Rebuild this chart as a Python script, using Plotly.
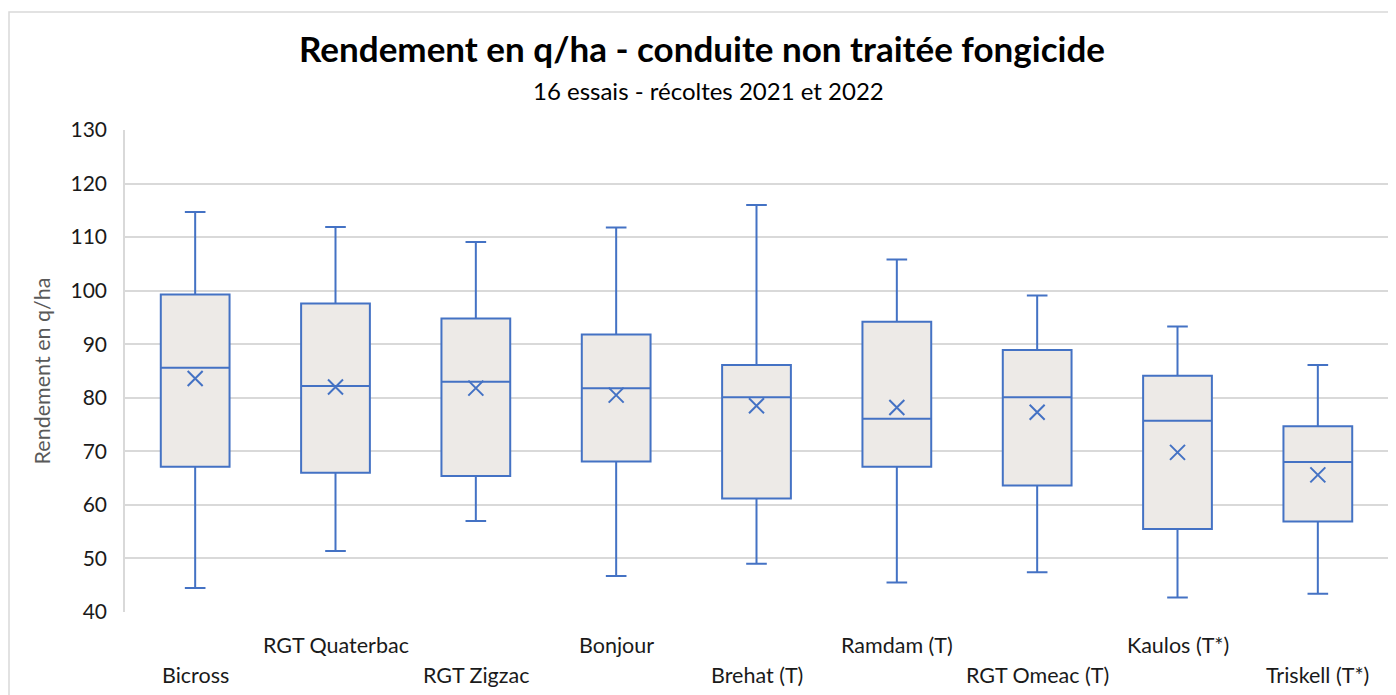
import plotly.graph_objects as go

categories = ["Bicross", "RGT Quaterbac", "RGT Zigzac", "Bonjour", "Brehat (T)",
              "Ramdam (T)", "RGT Omeac (T)", "Kaulos (T*)", "Triskell (T*)"]
upper_whisker = [114.7, 111.9, 109.1, 111.8, 116.0, 105.8, 99.1, 93.3, 86.1]
q3_values = [99.3, 97.6, 94.8, 91.8, 86.1, 94.2, 88.9, 84.1, 74.7]
median_values = [85.6, 82.2, 83.0, 81.8, 80.1, 76.1, 80.1, 75.7, 68.0]
mean_values = [83.6, 82.0, 81.8, 80.5, 78.5, 78.2, 77.3, 69.8, 65.6]
q1_values = [67.1, 66.0, 65.4, 68.1, 61.2, 67.1, 63.6, 55.5, 56.9]
lower_whisker = [44.5, 51.4, 57.0, 46.7, 49.0, 45.5, 47.4, 42.7, 43.4]
y_ticks = [40, 50, 60, 70, 80, 90, 100, 110, 120, 130]

title_text = "Rendement en q/ha - conduite non traitée fongicide"
subtitle_text = "16 essais - récoltes 2021 et 2022"
y_title = "Rendement en q/ha"

BLUE = "#4472C4"
FILL = "#EDEAE7"
FONT = "Lato"

W, H = 1388, 687
L, R, T, B = 117, 8, 122, 83
PW, PH = W - L - R, H - T - B

fig = go.Figure()
fig.add_trace(go.Box(
    x=categories,
    q1=q1_values, median=median_values, q3=q3_values,
    lowerfence=lower_whisker, upperfence=upper_whisker,
    line=dict(color=BLUE, width=2),
    fillcolor=FILL,
    width=0.49,
    whiskerwidth=0.3,
    boxpoints=False,
    showlegend=False,
    hoverinfo="skip",
))
fig.add_trace(go.Scatter(
    x=categories, y=mean_values, mode="markers",
    marker=dict(symbol="x-thin-open", size=15, line=dict(color=BLUE, width=2), color=BLUE),
    showlegend=False, hoverinfo="skip",
))

annotations = []
for i, c in enumerate(categories):
    annotations.append(dict(
        x=c, xref="x", y=(-0.0685 if i % 2 == 1 else -0.1307), yref="paper",
        text=c, showarrow=False, yanchor="middle", xanchor="center",
        font=dict(family=FONT, size=21.5, color="#1a1a1a"),
    ))
annotations.append(dict(
    x=(700 - L) / PW, xref="paper", y=(T + PH - 82) / PH, yref="paper", text=subtitle_text,
    showarrow=False, yanchor="middle", xanchor="center",
    font=dict(family=FONT, size=24, color="#000000"),
))

fig.update_layout(
    width=W, height=H,
    margin=dict(l=L, r=R, t=T, b=B),
    paper_bgcolor="white", plot_bgcolor="white",
    title=dict(text="<b>" + title_text + "</b>", x=0.5, xanchor="center",
               y=1 - 42 / H, yanchor="middle", yref="container",
               font=dict(family=FONT, size=35, color="#000000")),
    annotations=annotations,
    shapes=[dict(type="rect", xref="paper", yref="paper",
                 x0=(1 - L) / PW, x1=(W + 10 - L) / PW,
                 y0=-(B + 10) / PH, y1=(PH + T - 4) / PH,
                 line=dict(color="#D9D9D9", width=1.5), fillcolor="rgba(0,0,0,0)", layer="below")],
)
fig.update_xaxes(
    type="category", range=[-0.5, 8.5], showticklabels=False, showgrid=False,
    showline=False, zeroline=False, ticks="",
)
fig.update_yaxes(
    range=[40, 130], tickvals=y_ticks, showgrid=True, gridcolor="#D9D9D9", gridwidth=1.5,
    showline=True, linecolor="#D9D9D9", linewidth=1.5, zeroline=False,
    ticks="", ticklabelstandoff=12,
    tickfont=dict(family=FONT, size=21, color="#1a1a1a"),
    title=dict(text=y_title, font=dict(family=FONT, size=21.5, color="#595959"), standoff=14),
)

fig.write_html("out.html")
